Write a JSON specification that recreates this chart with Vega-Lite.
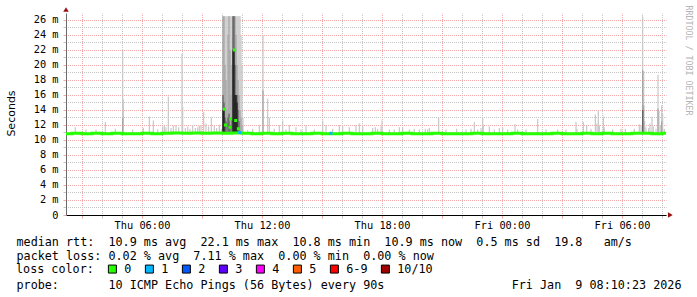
{
  "$schema": "https://vega.github.io/schema/vega-lite/v6.json",
  "width": 600,
  "height": 202,
  "autosize": {"type": "none"},
  "padding": {"left": 66, "top": 13, "right": 31, "bottom": 82},
  "background": "#ffffff",
  "config": {"view": {"stroke": null}},
  "datasets": {
    "smoke": [
      {"t":"2026-01-08T02:40","lo":10.8,"hi":11.7,"s":1},
      {"t":"2026-01-08T03:12","lo":10.8,"hi":11.4,"s":1},
      {"t":"2026-01-08T03:42","lo":10.8,"hi":11.4,"s":1},
      {"t":"2026-01-08T04:10","lo":10.8,"hi":12.4,"s":1},
      {"t":"2026-01-08T04:40","lo":10.8,"hi":11.5,"s":1},
      {"t":"2026-01-08T05:02","lo":10.8,"hi":21.8,"s":1},
      {"t":"2026-01-08T05:04","lo":10.8,"hi":15.4,"s":1},
      {"t":"2026-01-08T05:32","lo":10.8,"hi":11.4,"s":1},
      {"t":"2026-01-08T06:04","lo":10.8,"hi":11.6,"s":1},
      {"t":"2026-01-08T06:22","lo":10.8,"hi":13.1,"s":1},
      {"t":"2026-01-08T06:34","lo":10.8,"hi":12.6,"s":1},
      {"t":"2026-01-08T06:47","lo":10.8,"hi":11.4,"s":1},
      {"t":"2026-01-08T07:02","lo":10.8,"hi":11.8,"s":1},
      {"t":"2026-01-08T07:07","lo":10.8,"hi":11.9,"s":1},
      {"t":"2026-01-08T07:12","lo":10.8,"hi":11.7,"s":1},
      {"t":"2026-01-08T07:19","lo":10.8,"hi":15.8,"s":1},
      {"t":"2026-01-08T07:27","lo":10.8,"hi":11.6,"s":1},
      {"t":"2026-01-08T07:34","lo":10.8,"hi":11.9,"s":1},
      {"t":"2026-01-08T07:42","lo":10.8,"hi":12.0,"s":1},
      {"t":"2026-01-08T07:50","lo":10.8,"hi":11.7,"s":1},
      {"t":"2026-01-08T08:00","lo":10.8,"hi":21.5,"s":1},
      {"t":"2026-01-08T08:02","lo":10.8,"hi":14.4,"s":1},
      {"t":"2026-01-08T08:10","lo":10.8,"hi":11.6,"s":1},
      {"t":"2026-01-08T08:17","lo":10.8,"hi":11.8,"s":1},
      {"t":"2026-01-08T08:24","lo":10.8,"hi":11.5,"s":1},
      {"t":"2026-01-08T08:32","lo":10.8,"hi":12.0,"s":1},
      {"t":"2026-01-08T08:40","lo":10.8,"hi":11.6,"s":1},
      {"t":"2026-01-08T08:47","lo":10.8,"hi":11.7,"s":1},
      {"t":"2026-01-08T08:52","lo":10.8,"hi":11.9,"s":1},
      {"t":"2026-01-08T08:57","lo":10.8,"hi":12.0,"s":1},
      {"t":"2026-01-08T09:05","lo":10.8,"hi":13.7,"s":1},
      {"t":"2026-01-08T09:12","lo":10.8,"hi":12.2,"s":1},
      {"t":"2026-01-08T09:20","lo":10.8,"hi":11.8,"s":1},
      {"t":"2026-01-08T09:28","lo":10.8,"hi":13.0,"s":1},
      {"t":"2026-01-08T09:37","lo":10.8,"hi":11.9,"s":1},
      {"t":"2026-01-08T09:44","lo":10.8,"hi":11.6,"s":1},
      {"t":"2026-01-08T09:52","lo":10.8,"hi":12.0,"s":1},
      {"t":"2026-01-08T09:58","lo":10.8,"hi":11.5,"s":1},
      {"t":"2026-01-08T10:03","lo":10.8,"hi":26.5,"s":1},
      {"t":"2026-01-08T10:06","lo":10.8,"hi":26.5,"s":1},
      {"t":"2026-01-08T10:09","lo":10.8,"hi":26.5,"s":1},
      {"t":"2026-01-08T10:12","lo":10.8,"hi":26.5,"s":1},
      {"t":"2026-01-08T10:15","lo":10.8,"hi":26.5,"s":1},
      {"t":"2026-01-08T10:18","lo":10.8,"hi":26.5,"s":1},
      {"t":"2026-01-08T10:21","lo":10.8,"hi":26.5,"s":1},
      {"t":"2026-01-08T10:24","lo":10.8,"hi":26.5,"s":1},
      {"t":"2026-01-08T10:27","lo":10.8,"hi":26.5,"s":1},
      {"t":"2026-01-08T10:30","lo":10.8,"hi":26.5,"s":1},
      {"t":"2026-01-08T10:33","lo":10.8,"hi":26.5,"s":1},
      {"t":"2026-01-08T10:36","lo":10.8,"hi":26.5,"s":1},
      {"t":"2026-01-08T10:39","lo":10.8,"hi":26.5,"s":1},
      {"t":"2026-01-08T10:42","lo":10.8,"hi":26.5,"s":1},
      {"t":"2026-01-08T10:45","lo":10.8,"hi":26.5,"s":1},
      {"t":"2026-01-08T10:48","lo":10.8,"hi":26.5,"s":1},
      {"t":"2026-01-08T10:51","lo":10.8,"hi":26.5,"s":1},
      {"t":"2026-01-08T10:54","lo":10.8,"hi":26.5,"s":1},
      {"t":"2026-01-08T10:57","lo":10.8,"hi":24.0,"s":1},
      {"t":"2026-01-08T11:00","lo":10.8,"hi":20.0,"s":1},
      {"t":"2026-01-08T11:03","lo":10.8,"hi":13.0,"s":1},
      {"t":"2026-01-08T11:17","lo":10.8,"hi":11.3,"s":1},
      {"t":"2026-01-08T11:32","lo":10.8,"hi":11.5,"s":1},
      {"t":"2026-01-08T11:52","lo":10.8,"hi":12.0,"s":1},
      {"t":"2026-01-08T12:03","lo":10.8,"hi":24.0,"s":1},
      {"t":"2026-01-08T12:17","lo":10.8,"hi":15.5,"s":1},
      {"t":"2026-01-08T12:22","lo":10.8,"hi":13.0,"s":1},
      {"t":"2026-01-08T12:37","lo":10.8,"hi":11.5,"s":1},
      {"t":"2026-01-08T12:52","lo":10.8,"hi":12.0,"s":1},
      {"t":"2026-01-08T13:02","lo":10.8,"hi":12.6,"s":1},
      {"t":"2026-01-08T13:12","lo":10.8,"hi":11.4,"s":1},
      {"t":"2026-01-08T13:22","lo":10.8,"hi":12.0,"s":1},
      {"t":"2026-01-08T13:42","lo":10.8,"hi":11.7,"s":1},
      {"t":"2026-01-08T13:57","lo":10.8,"hi":11.4,"s":1},
      {"t":"2026-01-08T14:12","lo":10.8,"hi":12.0,"s":1},
      {"t":"2026-01-08T14:37","lo":10.8,"hi":11.4,"s":1},
      {"t":"2026-01-08T15:02","lo":10.8,"hi":12.6,"s":1},
      {"t":"2026-01-08T15:12","lo":10.8,"hi":12.0,"s":1},
      {"t":"2026-01-08T15:32","lo":10.8,"hi":11.5,"s":1},
      {"t":"2026-01-08T15:52","lo":10.8,"hi":12.0,"s":1},
      {"t":"2026-01-08T16:02","lo":10.8,"hi":12.0,"s":1},
      {"t":"2026-01-08T16:22","lo":10.8,"hi":11.7,"s":1},
      {"t":"2026-01-08T16:42","lo":10.8,"hi":12.0,"s":1},
      {"t":"2026-01-08T16:52","lo":10.8,"hi":12.2,"s":1},
      {"t":"2026-01-08T17:02","lo":10.8,"hi":12.0,"s":1},
      {"t":"2026-01-08T17:32","lo":10.8,"hi":11.6,"s":1},
      {"t":"2026-01-08T17:40","lo":10.8,"hi":11.7,"s":1},
      {"t":"2026-01-08T17:47","lo":10.8,"hi":11.5,"s":1},
      {"t":"2026-01-08T17:57","lo":10.8,"hi":11.8,"s":1},
      {"t":"2026-01-08T18:00","lo":10.8,"hi":12.6,"s":1},
      {"t":"2026-01-08T18:22","lo":10.8,"hi":11.4,"s":1},
      {"t":"2026-01-08T18:37","lo":10.8,"hi":11.4,"s":1},
      {"t":"2026-01-08T18:52","lo":10.8,"hi":11.7,"s":1},
      {"t":"2026-01-08T19:02","lo":10.8,"hi":11.7,"s":1},
      {"t":"2026-01-08T19:22","lo":10.8,"hi":11.4,"s":1},
      {"t":"2026-01-08T19:37","lo":10.8,"hi":11.5,"s":1},
      {"t":"2026-01-08T19:52","lo":10.8,"hi":11.4,"s":1},
      {"t":"2026-01-08T20:10","lo":10.8,"hi":11.5,"s":1},
      {"t":"2026-01-08T20:17","lo":10.8,"hi":11.4,"s":1},
      {"t":"2026-01-08T20:22","lo":10.8,"hi":11.6,"s":1},
      {"t":"2026-01-08T20:50","lo":10.8,"hi":13.0,"s":1},
      {"t":"2026-01-08T21:12","lo":10.8,"hi":11.4,"s":1},
      {"t":"2026-01-08T21:44","lo":10.8,"hi":11.5,"s":1},
      {"t":"2026-01-08T22:12","lo":10.8,"hi":11.4,"s":1},
      {"t":"2026-01-08T22:27","lo":10.8,"hi":11.5,"s":1},
      {"t":"2026-01-08T22:37","lo":10.8,"hi":12.4,"s":1},
      {"t":"2026-01-08T22:47","lo":10.8,"hi":11.4,"s":1},
      {"t":"2026-01-08T22:57","lo":10.8,"hi":11.6,"s":1},
      {"t":"2026-01-08T23:02","lo":10.8,"hi":13.0,"s":1},
      {"t":"2026-01-08T23:04","lo":10.8,"hi":12.0,"s":1},
      {"t":"2026-01-08T23:22","lo":10.8,"hi":11.8,"s":1},
      {"t":"2026-01-08T23:37","lo":10.8,"hi":11.4,"s":1},
      {"t":"2026-01-08T23:52","lo":10.8,"hi":11.6,"s":1},
      {"t":"2026-01-09T00:02","lo":10.8,"hi":11.6,"s":1},
      {"t":"2026-01-09T00:17","lo":10.8,"hi":11.4,"s":1},
      {"t":"2026-01-09T00:39","lo":10.8,"hi":12.1,"s":1},
      {"t":"2026-01-09T00:47","lo":10.8,"hi":11.4,"s":1},
      {"t":"2026-01-09T01:12","lo":10.8,"hi":11.4,"s":1},
      {"t":"2026-01-09T01:47","lo":10.8,"hi":12.8,"s":1},
      {"t":"2026-01-09T02:12","lo":10.8,"hi":11.4,"s":1},
      {"t":"2026-01-09T02:47","lo":10.8,"hi":11.4,"s":1},
      {"t":"2026-01-09T03:12","lo":10.8,"hi":11.4,"s":1},
      {"t":"2026-01-09T03:42","lo":10.8,"hi":12.4,"s":1},
      {"t":"2026-01-09T03:45","lo":10.8,"hi":11.5,"s":1},
      {"t":"2026-01-09T04:04","lo":10.8,"hi":12.4,"s":1},
      {"t":"2026-01-09T04:14","lo":10.8,"hi":12.0,"s":1},
      {"t":"2026-01-09T04:27","lo":10.8,"hi":11.5,"s":1},
      {"t":"2026-01-09T04:40","lo":10.8,"hi":13.4,"s":1},
      {"t":"2026-01-09T04:45","lo":10.8,"hi":12.2,"s":1},
      {"t":"2026-01-09T04:49","lo":10.8,"hi":13.9,"s":1},
      {"t":"2026-01-09T04:52","lo":10.8,"hi":12.0,"s":1},
      {"t":"2026-01-09T05:04","lo":10.8,"hi":13.1,"s":1},
      {"t":"2026-01-09T05:07","lo":10.8,"hi":11.7,"s":1},
      {"t":"2026-01-09T05:32","lo":10.8,"hi":11.4,"s":1},
      {"t":"2026-01-09T05:57","lo":10.8,"hi":11.5,"s":1},
      {"t":"2026-01-09T06:10","lo":10.8,"hi":11.5,"s":1},
      {"t":"2026-01-09T06:37","lo":10.8,"hi":11.5,"s":1},
      {"t":"2026-01-09T06:52","lo":10.8,"hi":12.1,"s":1},
      {"t":"2026-01-09T06:57","lo":10.8,"hi":12.0,"s":1},
      {"t":"2026-01-09T07:02","lo":10.8,"hi":26.5,"s":1},
      {"t":"2026-01-09T07:05","lo":10.8,"hi":19.2,"s":1},
      {"t":"2026-01-09T07:08","lo":10.8,"hi":12.5,"s":1},
      {"t":"2026-01-09T07:12","lo":10.8,"hi":11.7,"s":1},
      {"t":"2026-01-09T07:20","lo":10.8,"hi":11.6,"s":1},
      {"t":"2026-01-09T07:24","lo":10.8,"hi":12.2,"s":1},
      {"t":"2026-01-09T07:30","lo":10.8,"hi":13.1,"s":1},
      {"t":"2026-01-09T07:34","lo":10.8,"hi":11.8,"s":1},
      {"t":"2026-01-09T07:42","lo":10.8,"hi":11.5,"s":1},
      {"t":"2026-01-09T07:48","lo":10.8,"hi":18.7,"s":1},
      {"t":"2026-01-09T07:51","lo":10.8,"hi":13.9,"s":1},
      {"t":"2026-01-09T07:55","lo":10.8,"hi":12.0,"s":1},
      {"t":"2026-01-09T07:59","lo":10.8,"hi":14.6,"s":1},
      {"t":"2026-01-09T08:02","lo":10.8,"hi":13.5,"s":1},
      {"t":"2026-01-09T08:07","lo":10.8,"hi":11.5,"s":1},
      {"t":"2026-01-08T05:02","lo":10.8,"hi":13.0,"s":2},
      {"t":"2026-01-08T12:03","lo":10.8,"hi":16.6,"s":2},
      {"t":"2026-01-08T10:03","lo":10.8,"hi":26.5,"s":2},
      {"t":"2026-01-08T10:06","lo":10.8,"hi":26.5,"s":2},
      {"t":"2026-01-08T10:09","lo":10.8,"hi":20.0,"s":2},
      {"t":"2026-01-08T10:12","lo":10.8,"hi":18.0,"s":2},
      {"t":"2026-01-08T10:15","lo":10.8,"hi":14.0,"s":2},
      {"t":"2026-01-08T10:18","lo":10.8,"hi":24.0,"s":2},
      {"t":"2026-01-08T10:21","lo":10.8,"hi":26.5,"s":2},
      {"t":"2026-01-08T10:24","lo":10.8,"hi":22.0,"s":2},
      {"t":"2026-01-08T10:27","lo":10.8,"hi":16.0,"s":2},
      {"t":"2026-01-08T10:30","lo":10.8,"hi":20.0,"s":2},
      {"t":"2026-01-08T10:33","lo":10.8,"hi":26.5,"s":2},
      {"t":"2026-01-08T10:36","lo":10.8,"hi":26.5,"s":2},
      {"t":"2026-01-08T10:39","lo":10.8,"hi":26.5,"s":2},
      {"t":"2026-01-08T10:42","lo":10.8,"hi":24.0,"s":2},
      {"t":"2026-01-08T10:45","lo":10.8,"hi":20.0,"s":2},
      {"t":"2026-01-08T10:48","lo":10.8,"hi":18.0,"s":2},
      {"t":"2026-01-08T10:51","lo":10.8,"hi":16.0,"s":2},
      {"t":"2026-01-08T10:54","lo":10.8,"hi":14.0,"s":2},
      {"t":"2026-01-08T10:57","lo":10.8,"hi":13.0,"s":2},
      {"t":"2026-01-08T11:00","lo":10.8,"hi":12.0,"s":2},
      {"t":"2026-01-09T07:02","lo":10.8,"hi":19.3,"s":2},
      {"t":"2026-01-09T07:05","lo":10.8,"hi":14.6,"s":2},
      {"t":"2026-01-09T07:48","lo":10.8,"hi":14.2,"s":2},
      {"t":"2026-01-09T07:59","lo":10.8,"hi":12.5,"s":2},
      {"t":"2026-01-08T10:03","lo":10.8,"hi":16.0,"s":3},
      {"t":"2026-01-08T10:06","lo":10.8,"hi":15.0,"s":3},
      {"t":"2026-01-08T10:09","lo":10.8,"hi":13.0,"s":3},
      {"t":"2026-01-08T10:12","lo":10.8,"hi":12.5,"s":3},
      {"t":"2026-01-08T10:18","lo":10.8,"hi":13.0,"s":3},
      {"t":"2026-01-08T10:21","lo":10.8,"hi":13.5,"s":3},
      {"t":"2026-01-08T10:24","lo":10.8,"hi":12.0,"s":3},
      {"t":"2026-01-08T10:30","lo":10.8,"hi":13.0,"s":3},
      {"t":"2026-01-08T10:33","lo":10.8,"hi":26.5,"s":3},
      {"t":"2026-01-08T10:36","lo":10.8,"hi":26.5,"s":3},
      {"t":"2026-01-08T10:39","lo":10.8,"hi":20.0,"s":3},
      {"t":"2026-01-08T10:42","lo":10.8,"hi":16.0,"s":3},
      {"t":"2026-01-08T10:45","lo":10.8,"hi":16.0,"s":3},
      {"t":"2026-01-08T10:48","lo":10.8,"hi":14.0,"s":3},
      {"t":"2026-01-08T10:51","lo":10.8,"hi":12.5,"s":3},
      {"t":"2026-01-09T07:02","lo":10.8,"hi":14.0,"s":3},
      {"t":"2026-01-08T10:03","lo":10.8,"hi":14.0,"s":4},
      {"t":"2026-01-08T10:06","lo":10.8,"hi":14.2,"s":4},
      {"t":"2026-01-08T10:33","lo":10.8,"hi":22.0,"s":4},
      {"t":"2026-01-08T10:36","lo":10.8,"hi":22.0,"s":4},
      {"t":"2026-01-08T10:39","lo":10.8,"hi":16.0,"s":4},
      {"t":"2026-01-08T10:42","lo":10.8,"hi":16.0,"s":4},
      {"t":"2026-01-08T10:45","lo":10.8,"hi":15.0,"s":4}
    ],
    "median": [
      {"t":"2026-01-08T02:12","m":10.85},{"t":"2026-01-08T02:30","m":10.9},
      {"t":"2026-01-08T03:00","m":10.85},{"t":"2026-01-08T03:30","m":10.9},
      {"t":"2026-01-08T04:00","m":10.85},{"t":"2026-01-08T04:30","m":10.9},
      {"t":"2026-01-08T05:00","m":10.85},{"t":"2026-01-08T05:30","m":10.85},
      {"t":"2026-01-08T06:00","m":10.9},{"t":"2026-01-08T06:30","m":10.85},
      {"t":"2026-01-08T07:00","m":10.9},{"t":"2026-01-08T07:30","m":10.95},
      {"t":"2026-01-08T08:00","m":10.9},{"t":"2026-01-08T08:30","m":10.95},
      {"t":"2026-01-08T09:00","m":10.9},{"t":"2026-01-08T09:30","m":10.95},
      {"t":"2026-01-08T10:00","m":10.9},{"t":"2026-01-08T10:30","m":10.95},
      {"t":"2026-01-08T11:00","m":10.9},{"t":"2026-01-08T11:30","m":10.85},
      {"t":"2026-01-08T12:00","m":10.9},{"t":"2026-01-08T12:30","m":10.85},
      {"t":"2026-01-08T13:00","m":10.9},{"t":"2026-01-08T13:30","m":10.85},
      {"t":"2026-01-08T14:00","m":10.85},{"t":"2026-01-08T14:30","m":10.9},
      {"t":"2026-01-08T15:00","m":10.85},{"t":"2026-01-08T15:30","m":10.85},
      {"t":"2026-01-08T16:00","m":10.9},{"t":"2026-01-08T16:30","m":10.85},
      {"t":"2026-01-08T17:00","m":10.85},{"t":"2026-01-08T17:30","m":10.9},
      {"t":"2026-01-08T18:00","m":10.85},{"t":"2026-01-08T18:30","m":10.85},
      {"t":"2026-01-08T19:00","m":10.9},{"t":"2026-01-08T19:30","m":10.85},
      {"t":"2026-01-08T20:00","m":10.85},{"t":"2026-01-08T20:30","m":10.9},
      {"t":"2026-01-08T21:00","m":10.85},{"t":"2026-01-08T21:30","m":10.85},
      {"t":"2026-01-08T22:00","m":10.85},{"t":"2026-01-08T22:30","m":10.9},
      {"t":"2026-01-08T23:00","m":10.85},{"t":"2026-01-08T23:30","m":10.85},
      {"t":"2026-01-09T00:00","m":10.85},{"t":"2026-01-09T00:30","m":10.9},
      {"t":"2026-01-09T01:00","m":10.85},{"t":"2026-01-09T01:30","m":10.85},
      {"t":"2026-01-09T02:00","m":10.85},{"t":"2026-01-09T02:30","m":10.9},
      {"t":"2026-01-09T03:00","m":10.85},{"t":"2026-01-09T03:30","m":10.85},
      {"t":"2026-01-09T04:00","m":10.9},{"t":"2026-01-09T04:30","m":10.85},
      {"t":"2026-01-09T05:00","m":10.9},{"t":"2026-01-09T05:30","m":10.85},
      {"t":"2026-01-09T06:00","m":10.85},{"t":"2026-01-09T06:30","m":10.9},
      {"t":"2026-01-09T07:00","m":10.9},{"t":"2026-01-09T07:30","m":10.85},
      {"t":"2026-01-09T08:00","m":10.9},{"t":"2026-01-09T08:12","m":10.9}
    ],
    "dots": [
      {"t":"2026-01-08T10:07","m":14.1,"c":"0"},
      {"t":"2026-01-08T10:10","m":12.0,"c":"0"},
      {"t":"2026-01-08T10:24","m":11.7,"c":"0"},
      {"t":"2026-01-08T10:26","m":12.8,"c":"0"},
      {"t":"2026-01-08T10:37","m":22.0,"c":"0"},
      {"t":"2026-01-08T10:41","m":12.6,"c":"0"},
      {"t":"2026-01-08T10:49","m":11.5,"c":"0"},
      {"t":"2026-01-08T10:53","m":11.0,"c":"1"},
      {"t":"2026-01-08T15:27","m":10.9,"c":"1"}
    ]
  },
  "resolve": {"axis": {"x": "independent", "y": "independent"}},
  "layer": [
    {
      "data": {"name": "smoke"},
      "mark": {"type": "rule", "strokeWidth": 1.2},
      "encoding": {
        "x": {"field": "t", "type": "temporal",
          "scale": {"domain": ["2026-01-08T02:12", "2026-01-09T08:12"], "nice": false},
          "axis": {"orient": "bottom", "values": [
              {"year":2026,"month":1,"date":8,"hours":4},{"year":2026,"month":1,"date":8,"hours":5},
              {"year":2026,"month":1,"date":8,"hours":7},{"year":2026,"month":1,"date":8,"hours":8},
              {"year":2026,"month":1,"date":8,"hours":10},{"year":2026,"month":1,"date":8,"hours":11},
              {"year":2026,"month":1,"date":8,"hours":13},{"year":2026,"month":1,"date":8,"hours":14},
              {"year":2026,"month":1,"date":8,"hours":16},{"year":2026,"month":1,"date":8,"hours":17},
              {"year":2026,"month":1,"date":8,"hours":19},{"year":2026,"month":1,"date":8,"hours":20},
              {"year":2026,"month":1,"date":8,"hours":22},{"year":2026,"month":1,"date":8,"hours":23},
              {"year":2026,"month":1,"date":9,"hours":1},{"year":2026,"month":1,"date":9,"hours":2},
              {"year":2026,"month":1,"date":9,"hours":4},{"year":2026,"month":1,"date":9,"hours":5},
              {"year":2026,"month":1,"date":9,"hours":7},{"year":2026,"month":1,"date":9,"hours":8}],
            "grid": true, "gridColor": "#c4c4c4", "gridDash": [1, 1], "gridDashOffset": 0.5, "gridOpacity": 1, "labels": false, "domain": false, "ticks": true, "tickColor": "#c4c4c4", "tickSize": 3,
            "title": "probe:\u00a0\u00a0\u00a0\u00a0\u00a0\u00a0\u00a010\u00a0ICMP\u00a0Echo\u00a0Pings\u00a0(56\u00a0Bytes)\u00a0every\u00a090s\u00a0\u00a0\u00a0\u00a0\u00a0\u00a0\u00a0\u00a0\u00a0\u00a0\u00a0\u00a0\u00a0\u00a0\u00a0\u00a0\u00a0\u00a0Fri\u00a0Jan\u00a0\u00a09\u00a008:10:23\u00a02026",
            "titleFont": "DejaVu Sans Mono", "titleFontSize": 11.75, "titleFontWeight": "normal", "titleColor": "#000000",
            "titleAlign": "left", "titleAnchor": "start", "titleBaseline": "alphabetic", "titleX": -50, "titleY": 73.5}},
        "y": {"field": "lo", "type": "quantitative",
          "scale": {"domain": [0, 26.9333], "nice": false, "zero": true},
          "axis": {"orient": "left", "values": [1,3,5,7,9,11,13,15,17,19,21,23,25], "grid": true, "gridColor": "#c4c4c4", "gridDash": [1, 1], "gridDashOffset": 0.5, "gridOpacity": 1, "labels": false, "domain": false, "ticks": true, "tickColor": "#c4c4c4", "tickSize": 3, "title": null}},
        "y2": {"field": "hi"},
        "stroke": {"field": "s", "type": "ordinal", "scale": {"domain": [1, 2, 3, 4], "range": ["#c8c8c8", "#a4a4a4", "#606060", "#1c1c1c"]}, "legend": null}
      }
    },
    {
      "data": {"name": "median"},
      "mark": {"type": "line", "interpolate": "step-after", "strokeWidth": 3, "color": "#26ff00"},
      "encoding": {
        "x": {"field": "t", "type": "temporal",
          "axis": {"orient": "bottom", "values": [
              {"year":2026,"month":1,"date":8,"hours":3},{"year":2026,"month":1,"date":8,"hours":6},
              {"year":2026,"month":1,"date":8,"hours":9},{"year":2026,"month":1,"date":8,"hours":12},
              {"year":2026,"month":1,"date":8,"hours":15},{"year":2026,"month":1,"date":8,"hours":18},
              {"year":2026,"month":1,"date":8,"hours":21},{"year":2026,"month":1,"date":9,"hours":0},
              {"year":2026,"month":1,"date":9,"hours":3},{"year":2026,"month":1,"date":9,"hours":6}],
            "grid": true, "gridColor": "#f2a8a8", "gridDash": [1, 1], "gridDashOffset": 0.5, "gridOpacity": 1,
            "domain": true, "domainColor": "#000000", "domainWidth": 1, "ticks": true, "tickColor": "#f2a8a8", "tickSize": 3,
            "labelExpr": "hours(datum.value) % 6 == 0 ? timeFormat(datum.value, '%a %H:%M') : ''",
            "labelFont": "DejaVu Sans Mono", "labelFontSize": 10.3, "labelColor": "#000000", "labelPadding": 2, "labelFlush": false, "labelOverlap": false,
            "title": [
              "median\u00a0rtt:\u00a0\u00a010.9\u00a0ms\u00a0avg\u00a0\u00a022.1\u00a0ms\u00a0max\u00a0\u00a010.8\u00a0ms\u00a0min\u00a0\u00a010.9\u00a0ms\u00a0now\u00a0\u00a00.5\u00a0ms\u00a0sd\u00a0\u00a019.8\u00a0\u00a0\u00a0am/s",
              "packet\u00a0loss:\u00a00.02\u00a0%\u00a0avg\u00a0\u00a07.11\u00a0%\u00a0max\u00a0\u00a00.00\u00a0%\u00a0min\u00a0\u00a00.00\u00a0%\u00a0now"
            ],
            "titleFont": "DejaVu Sans Mono", "titleFontSize": 11.75, "titleFontWeight": "normal", "titleColor": "#000000",
            "titleAlign": "left", "titleAnchor": "start", "titleBaseline": "alphabetic", "titleX": -50, "titleY": 30.5, "titleLineHeight": 14.4}},
        "y": {"field": "m", "type": "quantitative",
          "axis": {"orient": "left", "values": [0,2,4,6,8,10,12,14,16,18,20,22,24,26], "grid": true, "gridColor": "#f2a8a8", "gridDash": [1, 1], "gridDashOffset": 0.5, "gridOpacity": 1,
            "domain": true, "domainColor": "#6a6a6a", "domainWidth": 1, "ticks": true, "tickColor": "#f2a8a8", "tickSize": 3,
            "labelExpr": "datum.value == 0 ? '0' : datum.value + ' m'",
            "labelFont": "DejaVu Sans Mono", "labelFontSize": 10.3, "labelColor": "#000000", "labelPadding": 5,
            "title": "Seconds", "titleFont": "DejaVu Sans", "titleFontSize": 11, "titleFontWeight": "normal", "titleColor": "#000000",
            "titleAngle": 270, "titleX": -55, "titleY": 100, "titleAlign": "center", "titleBaseline": "middle"}}
      }
    },
    {
      "data": {"name": "dots"},
      "mark": {"type": "point", "shape": "square", "filled": true, "size": 9, "opacity": 1},
      "encoding": {
        "x": {"field": "t", "type": "temporal", "axis": null},
        "y": {"field": "m", "type": "quantitative",
          "axis": {"orient": "right", "grid": false, "domain": false, "ticks": false, "labels": false,
            "title": "RRDTOOL / TOBI OETIKER", "titleFont": "DejaVu Sans Mono", "titleFontSize": 8.3, "titleFontWeight": "normal", "titleColor": "#b4b4b4",
            "titleAngle": 90, "titleX": 21.5, "titleY": -8, "titleAlign": "left", "titleBaseline": "middle"}},
        "fill": {"field": "c", "type": "nominal", "title": "loss\u00a0color:",
          "scale": {"domain": ["0", "1", "2", "3", "4", "5", "6-9", "10/10"], "range": ["#26ff00", "#00b8ff", "#0059ff", "#5e00ff", "#ff00ff", "#ff5e00", "#ff0000", "#a10000"]},
          "legend": {"orient": "none", "legendX": -50, "legendY": 250, "direction": "horizontal", "columns": 8, "padding": 0,
            "titleOrient": "left", "titleFont": "DejaVu Sans Mono", "titleFontSize": 11.75, "titleFontWeight": "normal", "titleColor": "#000000", "titlePadding": 12.5, "titleAnchor": "middle", "titleBaseline": "middle",
            "symbolType": "square", "symbolSize": 64, "symbolOpacity": 1, "symbolStrokeColor": "#000000", "symbolStrokeWidth": 1,
            "labelFont": "DejaVu Sans Mono", "labelFontSize": 11.75, "labelColor": "#000000", "labelOffset": 6, "columnPadding": 11}}
      }
    },
    {
      "data": {"values": [{}]},
      "mark": {"type": "point", "shape": "triangle-right", "filled": true, "size": 30, "color": "#9a1010", "opacity": 1},
      "encoding": {
        "x": {"datum": {"year":2026,"month":1,"date":9,"hours":8,"minutes":25}, "type": "temporal", "axis": null},
        "y": {"datum": 0, "type": "quantitative", "axis": null}
      }
    },
    {
      "data": {"values": [{}]},
      "mark": {"type": "point", "shape": "triangle-up", "filled": true, "size": 30, "color": "#9a1010", "opacity": 1},
      "encoding": {
        "x": {"datum": {"year":2026,"month":1,"date":8,"hours":2,"minutes":12}, "type": "temporal", "axis": null},
        "y": {"datum": 27.4, "type": "quantitative", "axis": null}
      }
    }
  ]
}
